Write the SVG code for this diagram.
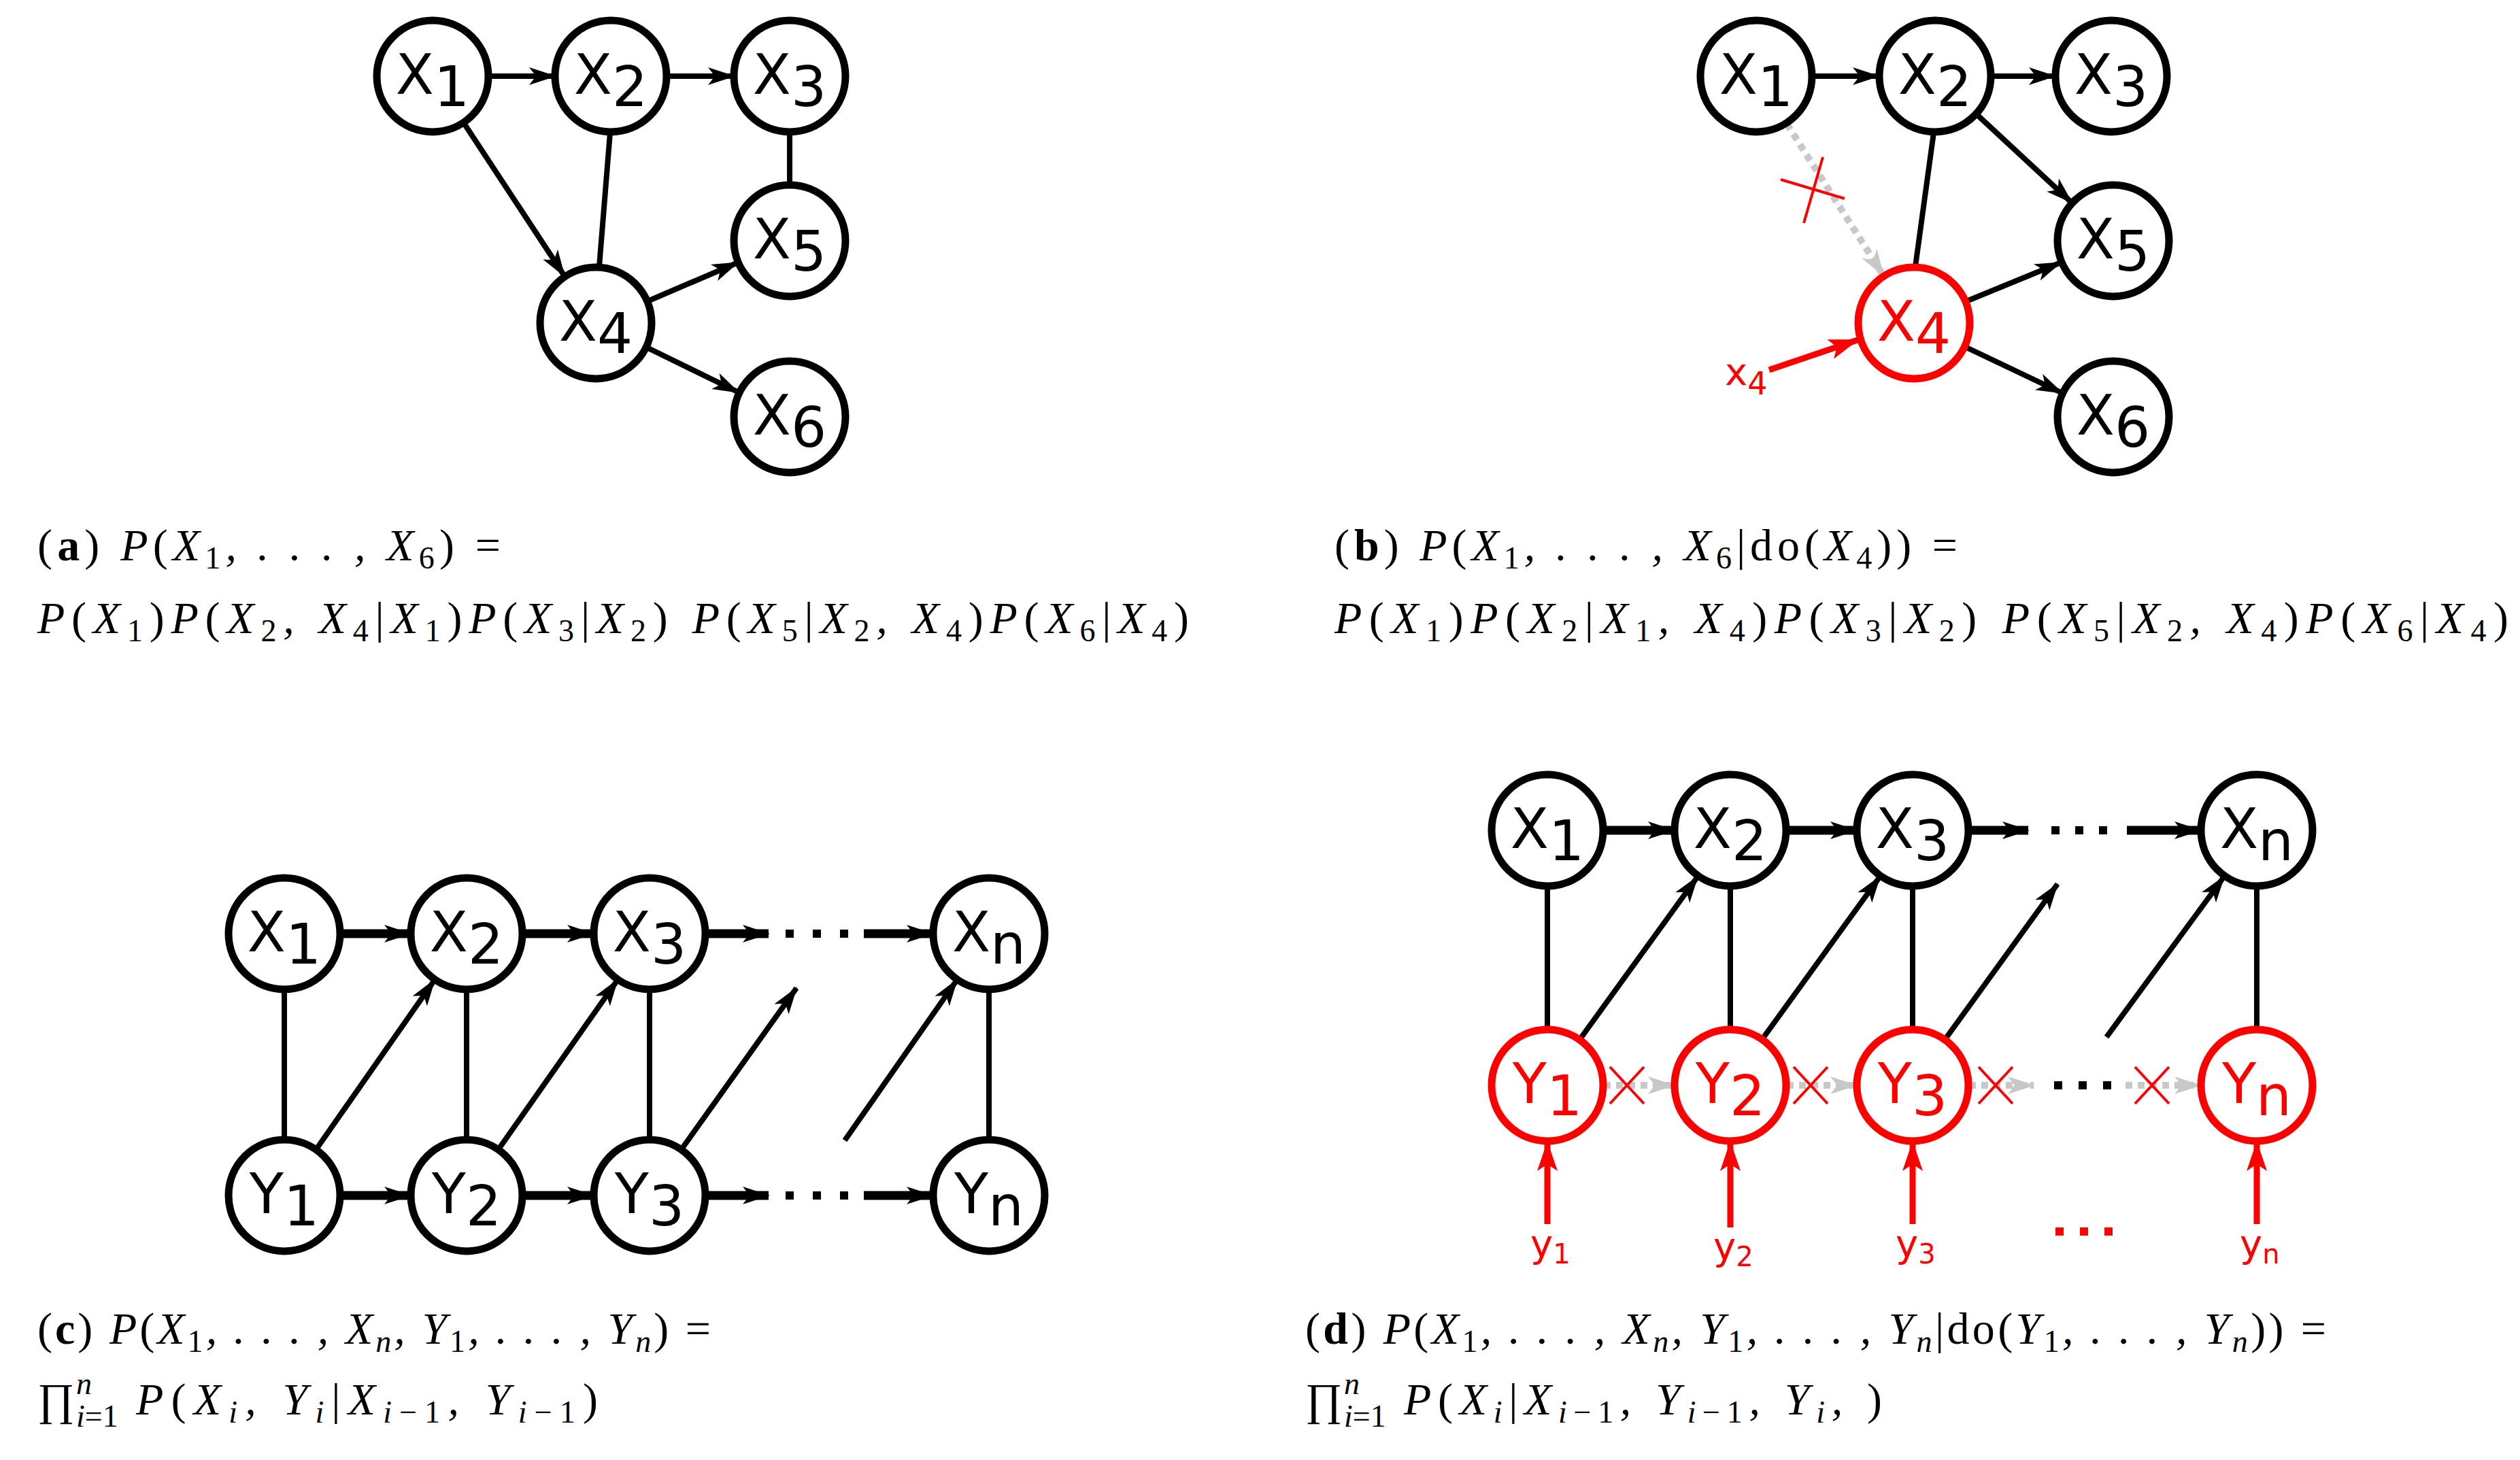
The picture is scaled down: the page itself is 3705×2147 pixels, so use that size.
<svg xmlns="http://www.w3.org/2000/svg" width="3705" height="2147" viewBox="0 0 3705 2147">
<style>
.nd{fill:#fff;stroke:#000;stroke-width:11}
.rd{fill:#fff;stroke:#f00;stroke-width:11}
.t{font-family:"DejaVu Sans",sans-serif;font-size:82px;text-anchor:middle;fill:#000}
.tr{fill:#f00}
.e{stroke:#000;stroke-width:8;fill:none}
.et{stroke:#000;stroke-width:13;fill:none}
.a{marker-end:url(#ah)}
.g{stroke:#c8c8c8;stroke-width:10;stroke-dasharray:10 8;fill:none;marker-end:url(#ag)}
.ra{stroke:#f00;stroke-width:9;fill:none;marker-end:url(#ar)}
.x{stroke:#f00;stroke-width:4}
.m{font-family:"Liberation Serif",serif;font-size:66px;font-style:italic;fill:#000}
.up{font-style:normal}
.b{font-style:normal;font-weight:bold}
.s{font-size:46px}
.rl{font-family:"DejaVu Sans",sans-serif;font-size:56px;fill:#f00}
</style>
<defs>
<marker id="ah" markerUnits="userSpaceOnUse" markerWidth="40" markerHeight="30" refX="38" refY="15" orient="auto"><path d="M0,2 L40,15 L0,28 L10,15 z" fill="#000"/></marker>
<marker id="ag" markerUnits="userSpaceOnUse" markerWidth="40" markerHeight="30" refX="38" refY="15" orient="auto"><path d="M0,2 L40,15 L0,28 L10,15 z" fill="#c8c8c8"/></marker>
<marker id="ar" markerUnits="userSpaceOnUse" markerWidth="44" markerHeight="34" refX="42" refY="17" orient="auto"><path d="M0,2 L44,17 L0,32 L10,17 z" fill="#f00"/></marker>
</defs>

<g id="connectors">
<!-- panel a -->
<line class="e a" x1="718" y1="112" x2="816" y2="112"/>
<line class="e a" x1="980" y1="112" x2="1079" y2="112"/>
<line class="e a" x1="682" y1="181" x2="830" y2="406"/>
<line class="e" x1="897" y1="195" x2="881" y2="392"/>
<line class="e" x1="1161" y1="195" x2="1161" y2="271"/>
<line class="e a" x1="952" y1="443" x2="1085" y2="386"/>
<line class="e a" x1="951" y1="511" x2="1086" y2="577"/>
<!-- panel b -->
<line class="e a" x1="2665" y1="112" x2="2762" y2="112"/>
<line class="e a" x1="2928" y1="112" x2="3021" y2="112"/>
<line class="e a" x1="2906" y1="168" x2="3046" y2="298"/>
<line class="e" x1="2843" y1="195" x2="2816" y2="392"/>
<line class="e a" x1="2891" y1="443" x2="3030" y2="386"/>
<line class="e a" x1="2889" y1="510" x2="3032" y2="578"/>
<line class="g" x1="2627" y1="182" x2="2769" y2="405"/>
<line class="x" x1="2680" y1="231" x2="2652" y2="328"/>
<line class="x" x1="2618" y1="264" x2="2712" y2="292"/>
<line class="ra" x1="2601" y1="544" x2="2731" y2="500"/>
<!-- panel c -->
<line class="et a" x1="501" y1="1373" x2="603" y2="1373"/>
<line class="et a" x1="769" y1="1373" x2="872" y2="1373"/>
<line class="et a" x1="1038" y1="1373" x2="1130" y2="1373"/>
<line class="et a" x1="1270" y1="1373" x2="1371" y2="1373"/>
<line class="et a" x1="501" y1="1758" x2="603" y2="1758"/>
<line class="et a" x1="769" y1="1758" x2="872" y2="1758"/>
<line class="et a" x1="1038" y1="1758" x2="1130" y2="1758"/>
<line class="et a" x1="1270" y1="1758" x2="1371" y2="1758"/>
<rect x="1155" y="1367" width="12" height="12"/><rect x="1195" y="1367" width="12" height="12"/><rect x="1235" y="1367" width="12" height="12"/>
<rect x="1155" y="1752" width="12" height="12"/><rect x="1195" y="1752" width="12" height="12"/><rect x="1235" y="1752" width="12" height="12"/>
<line class="e" x1="418" y1="1456" x2="418" y2="1675"/>
<line class="e" x1="686" y1="1456" x2="686" y2="1675"/>
<line class="e" x1="955" y1="1456" x2="955" y2="1675"/>
<line class="e" x1="1454" y1="1456" x2="1454" y2="1675"/>
<line class="e a" x1="465" y1="1690" x2="639" y2="1441"/>
<line class="e a" x1="733" y1="1690" x2="908" y2="1441"/>
<line class="e a" x1="1002" y1="1690" x2="1171" y2="1453"/>
<line class="e a" x1="1242" y1="1677" x2="1407" y2="1441"/>
<!-- panel d -->
<line class="et a" x1="2358" y1="1221" x2="2461" y2="1221"/>
<line class="et a" x1="2627" y1="1221" x2="2729" y2="1221"/>
<line class="et a" x1="2895" y1="1221" x2="2982" y2="1221"/>
<line class="et a" x1="3127" y1="1221" x2="3235" y2="1221"/>
<rect x="3016" y="1215" width="12" height="12"/><rect x="3051" y="1215" width="12" height="12"/><rect x="3086" y="1215" width="12" height="12"/>
<line class="e" x1="2275" y1="1304" x2="2275" y2="1513"/>
<line class="e" x1="2544" y1="1304" x2="2544" y2="1513"/>
<line class="e" x1="2812" y1="1304" x2="2812" y2="1513"/>
<line class="e" x1="3318" y1="1304" x2="3318" y2="1513"/>
<line class="e a" x1="2323" y1="1528" x2="2496" y2="1289"/>
<line class="e a" x1="2591" y1="1528" x2="2764" y2="1289"/>
<line class="e a" x1="2860" y1="1528" x2="3025" y2="1300"/>
<line class="e a" x1="3097" y1="1525" x2="3270" y2="1289"/>
<line class="g" x1="2358" y1="1596" x2="2461" y2="1596"/>
<line class="g" x1="2627" y1="1596" x2="2729" y2="1596"/>
<line class="g" x1="2895" y1="1596" x2="2990" y2="1596"/>
<line class="g" x1="3125" y1="1596" x2="3235" y2="1596"/>
<rect x="3020" y="1590" width="12" height="12"/><rect x="3056" y="1590" width="12" height="12"/><rect x="3092" y="1590" width="12" height="12"/>
<path class="x" d="M2367,1569 L2417,1623 M2417,1569 L2367,1623 M2637,1569 L2687,1623 M2687,1569 L2637,1623 M2909,1569 L2959,1623 M2959,1569 L2909,1623 M3139,1569 L3189,1623 M3189,1569 L3139,1623"/>
<line class="ra" x1="2275" y1="1800" x2="2275" y2="1680"/>
<line class="ra" x1="2544" y1="1805" x2="2544" y2="1680"/>
<line class="ra" x1="2812" y1="1800" x2="2812" y2="1680"/>
<line class="ra" x1="3318" y1="1800" x2="3318" y2="1680"/>
<rect x="3022" y="1805" width="12" height="12" fill="#f00"/><rect x="3058" y="1805" width="12" height="12" fill="#f00"/><rect x="3094" y="1805" width="12" height="12" fill="#f00"/>
</g>

<!-- panel a nodes -->
<g id="a-X1"><circle class="nd" cx="636" cy="112" r="82"/><text class="t" x="636" y="138">X<tspan dy="18">1</tspan></text></g>
<g id="a-X2"><circle class="nd" cx="898" cy="112" r="82"/><text class="t" x="898" y="138">X<tspan dy="18">2</tspan></text></g>
<g id="a-X3"><circle class="nd" cx="1161" cy="112" r="82"/><text class="t" x="1161" y="138">X<tspan dy="18">3</tspan></text></g>
<g id="a-X5"><circle class="nd" cx="1161" cy="354" r="82"/><text class="t" x="1161" y="380">X<tspan dy="18">5</tspan></text></g>
<g id="a-X4"><circle class="nd" cx="876" cy="475" r="82"/><text class="t" x="876" y="501">X<tspan dy="18">4</tspan></text></g>
<g id="a-X6"><circle class="nd" cx="1161" cy="613" r="82"/><text class="t" x="1161" y="639">X<tspan dy="18">6</tspan></text></g>

<!-- panel b nodes -->
<g id="b-X1"><circle class="nd" cx="2582" cy="112" r="82"/><text class="t" x="2582" y="138">X<tspan dy="18">1</tspan></text></g>
<g id="b-X2"><circle class="nd" cx="2845" cy="112" r="82"/><text class="t" x="2845" y="138">X<tspan dy="18">2</tspan></text></g>
<g id="b-X3"><circle class="nd" cx="3104" cy="112" r="82"/><text class="t" x="3104" y="138">X<tspan dy="18">3</tspan></text></g>
<g id="b-X5"><circle class="nd" cx="3107" cy="354" r="82"/><text class="t" x="3107" y="380">X<tspan dy="18">5</tspan></text></g>
<g id="b-X4"><circle class="rd" cx="2814" cy="475" r="82"/><text class="t tr" x="2814" y="501">X<tspan dy="18">4</tspan></text></g>
<g id="b-X6"><circle class="nd" cx="3107" cy="613" r="82"/><text class="t" x="3107" y="639">X<tspan dy="18">6</tspan></text></g>
<g id="b-x4"><text class="rl" x="2536" y="566">x<tspan class="s" dy="14" font-size="44">4</tspan></text></g>

<!-- panel c nodes -->
<g id="c-X1"><circle class="nd" cx="418" cy="1373" r="82"/><text class="t" x="418" y="1399">X<tspan dy="18">1</tspan></text></g>
<g id="c-X2"><circle class="nd" cx="686" cy="1373" r="82"/><text class="t" x="686" y="1399">X<tspan dy="18">2</tspan></text></g>
<g id="c-X3"><circle class="nd" cx="955" cy="1373" r="82"/><text class="t" x="955" y="1399">X<tspan dy="18">3</tspan></text></g>
<g id="c-Xn"><circle class="nd" cx="1454" cy="1373" r="82"/><text class="t" x="1454" y="1399">X<tspan dy="18">n</tspan></text></g>
<g id="c-Y1"><circle class="nd" cx="418" cy="1758" r="82"/><text class="t" x="418" y="1784">Y<tspan dy="18">1</tspan></text></g>
<g id="c-Y2"><circle class="nd" cx="686" cy="1758" r="82"/><text class="t" x="686" y="1784">Y<tspan dy="18">2</tspan></text></g>
<g id="c-Y3"><circle class="nd" cx="955" cy="1758" r="82"/><text class="t" x="955" y="1784">Y<tspan dy="18">3</tspan></text></g>
<g id="c-Yn"><circle class="nd" cx="1454" cy="1758" r="82"/><text class="t" x="1454" y="1784">Y<tspan dy="18">n</tspan></text></g>

<!-- panel d nodes -->
<g id="d-X1"><circle class="nd" cx="2275" cy="1221" r="82"/><text class="t" x="2275" y="1247">X<tspan dy="18">1</tspan></text></g>
<g id="d-X2"><circle class="nd" cx="2544" cy="1221" r="82"/><text class="t" x="2544" y="1247">X<tspan dy="18">2</tspan></text></g>
<g id="d-X3"><circle class="nd" cx="2812" cy="1221" r="82"/><text class="t" x="2812" y="1247">X<tspan dy="18">3</tspan></text></g>
<g id="d-Xn"><circle class="nd" cx="3318" cy="1221" r="82"/><text class="t" x="3318" y="1247">X<tspan dy="18">n</tspan></text></g>
<g id="d-Y1"><circle class="rd" cx="2275" cy="1596" r="82"/><text class="t tr" x="2275" y="1622">Y<tspan dy="18">1</tspan></text></g>
<g id="d-Y2"><circle class="rd" cx="2544" cy="1596" r="82"/><text class="t tr" x="2544" y="1622">Y<tspan dy="18">2</tspan></text></g>
<g id="d-Y3"><circle class="rd" cx="2812" cy="1596" r="82"/><text class="t tr" x="2812" y="1622">Y<tspan dy="18">3</tspan></text></g>
<g id="d-Yn"><circle class="rd" cx="3318" cy="1596" r="82"/><text class="t tr" x="3318" y="1622">Y<tspan dy="18">n</tspan></text></g>
<g id="d-ylabels">
<text class="rl" x="2250" y="1848">y<tspan font-size="40" dy="10">1</tspan></text>
<text class="rl" x="2519" y="1852">y<tspan font-size="40" dy="10">2</tspan></text>
<text class="rl" x="2787" y="1848">y<tspan font-size="40" dy="10">3</tspan></text>
<text class="rl" x="3293" y="1848">y<tspan font-size="40" dy="10">n</tspan></text>
</g>

<!-- captions -->
<g id="captions">
<text class="m" x="55" y="824" textLength="681" lengthAdjust="spacing"><tspan class="up">(</tspan><tspan class="b">a</tspan><tspan class="up">) </tspan>P<tspan class="up">(</tspan>X<tspan class="s up" dy="12">1</tspan><tspan dy="-12">, . . . , X</tspan><tspan class="s up" dy="12">6</tspan><tspan class="up" dy="-12">) =</tspan></text>
<text class="m" x="55" y="931" textLength="1693" lengthAdjust="spacing">P<tspan class="up">(</tspan>X<tspan class="s up" dy="12">1</tspan><tspan class="up" dy="-12">)</tspan>P<tspan class="up">(</tspan>X<tspan class="s up" dy="12">2</tspan><tspan dy="-12">, X</tspan><tspan class="s up" dy="12">4</tspan><tspan class="up" dy="-12">|</tspan>X<tspan class="s up" dy="12">1</tspan><tspan class="up" dy="-12">)</tspan>P<tspan class="up">(</tspan>X<tspan class="s up" dy="12">3</tspan><tspan class="up" dy="-12">|</tspan>X<tspan class="s up" dy="12">2</tspan><tspan class="up" dy="-12">) </tspan>P<tspan class="up">(</tspan>X<tspan class="s up" dy="12">5</tspan><tspan class="up" dy="-12">|</tspan>X<tspan class="s up" dy="12">2</tspan><tspan dy="-12">, X</tspan><tspan class="s up" dy="12">4</tspan><tspan class="up" dy="-12">)</tspan>P<tspan class="up">(</tspan>X<tspan class="s up" dy="12">6</tspan><tspan class="up" dy="-12">|</tspan>X<tspan class="s up" dy="12">4</tspan><tspan class="up" dy="-12">)</tspan></text>

<text class="m" x="1962" y="824" textLength="916" lengthAdjust="spacing"><tspan class="up">(</tspan><tspan class="b">b</tspan><tspan class="up">) </tspan>P<tspan class="up">(</tspan>X<tspan class="s up" dy="12">1</tspan><tspan dy="-12">, . . . , X</tspan><tspan class="s up" dy="12">6</tspan><tspan class="up" dy="-12">|do(</tspan>X<tspan class="s up" dy="12">4</tspan><tspan class="up" dy="-12">)) =</tspan></text>
<text class="m" x="1962" y="931" textLength="1726" lengthAdjust="spacing">P<tspan class="up">(</tspan>X<tspan class="s up" dy="12">1</tspan><tspan class="up" dy="-12">)</tspan>P<tspan class="up">(</tspan>X<tspan class="s up" dy="12">2</tspan><tspan class="up" dy="-12">|</tspan>X<tspan class="s up" dy="12">1</tspan><tspan dy="-12">, X</tspan><tspan class="s up" dy="12">4</tspan><tspan class="up" dy="-12">)</tspan>P<tspan class="up">(</tspan>X<tspan class="s up" dy="12">3</tspan><tspan class="up" dy="-12">|</tspan>X<tspan class="s up" dy="12">2</tspan><tspan class="up" dy="-12">) </tspan>P<tspan class="up">(</tspan>X<tspan class="s up" dy="12">5</tspan><tspan class="up" dy="-12">|</tspan>X<tspan class="s up" dy="12">2</tspan><tspan dy="-12">, X</tspan><tspan class="s up" dy="12">4</tspan><tspan class="up" dy="-12">)</tspan>P<tspan class="up">(</tspan>X<tspan class="s up" dy="12">6</tspan><tspan class="up" dy="-12">|</tspan>X<tspan class="s up" dy="12">4</tspan><tspan class="up" dy="-12">)</tspan></text>

<text class="m" x="55" y="1976" textLength="990" lengthAdjust="spacing"><tspan class="up">(</tspan><tspan class="b">c</tspan><tspan class="up">) </tspan>P<tspan class="up">(</tspan>X<tspan class="s up" dy="12">1</tspan><tspan dy="-12">, . . . , X</tspan><tspan class="s" dy="12">n</tspan><tspan dy="-12">, Y</tspan><tspan class="s up" dy="12">1</tspan><tspan dy="-12">, . . . , Y</tspan><tspan class="s" dy="12">n</tspan><tspan class="up" dy="-12">) =</tspan></text>
<text class="m up" x="55" y="2080">∏</text>
<text class="m s" x="112" y="2050">n</text>
<text class="m s" x="112" y="2098">i<tspan class="up">=1</tspan></text>
<text class="m" x="200" y="2080" textLength="679" lengthAdjust="spacing">P<tspan class="up">(</tspan>X<tspan class="s" dy="12">i</tspan><tspan dy="-12">, Y</tspan><tspan class="s" dy="12">i</tspan><tspan class="up" dy="-12">|</tspan>X<tspan class="s" dy="12">i<tspan class="up">−1</tspan></tspan><tspan dy="-12">, Y</tspan><tspan class="s" dy="12">i<tspan class="up">−1</tspan></tspan><tspan class="up" dy="-12">)</tspan></text>

<text class="m" x="1919" y="1976" textLength="1501" lengthAdjust="spacing"><tspan class="up">(</tspan><tspan class="b">d</tspan><tspan class="up">) </tspan>P<tspan class="up">(</tspan>X<tspan class="s up" dy="12">1</tspan><tspan dy="-12">, . . . , X</tspan><tspan class="s" dy="12">n</tspan><tspan dy="-12">, Y</tspan><tspan class="s up" dy="12">1</tspan><tspan dy="-12">, . . . , Y</tspan><tspan class="s" dy="12">n</tspan><tspan class="up" dy="-12">|do(</tspan>Y<tspan class="s up" dy="12">1</tspan><tspan dy="-12">, . . . , Y</tspan><tspan class="s" dy="12">n</tspan><tspan class="up" dy="-12">)) =</tspan></text>
<text class="m up" x="1919" y="2080">∏</text>
<text class="m s" x="1976" y="2050">n</text>
<text class="m s" x="1976" y="2098">i<tspan class="up">=1</tspan></text>
<text class="m" x="2064" y="2080" textLength="703" lengthAdjust="spacing">P<tspan class="up">(</tspan>X<tspan class="s" dy="12">i</tspan><tspan class="up" dy="-12">|</tspan>X<tspan class="s" dy="12">i<tspan class="up">−1</tspan></tspan><tspan dy="-12">, Y</tspan><tspan class="s" dy="12">i<tspan class="up">−1</tspan></tspan><tspan dy="-12">, Y</tspan><tspan class="s" dy="12">i</tspan><tspan dy="-12">, </tspan><tspan class="up">)</tspan></text>
</g>
</svg>
